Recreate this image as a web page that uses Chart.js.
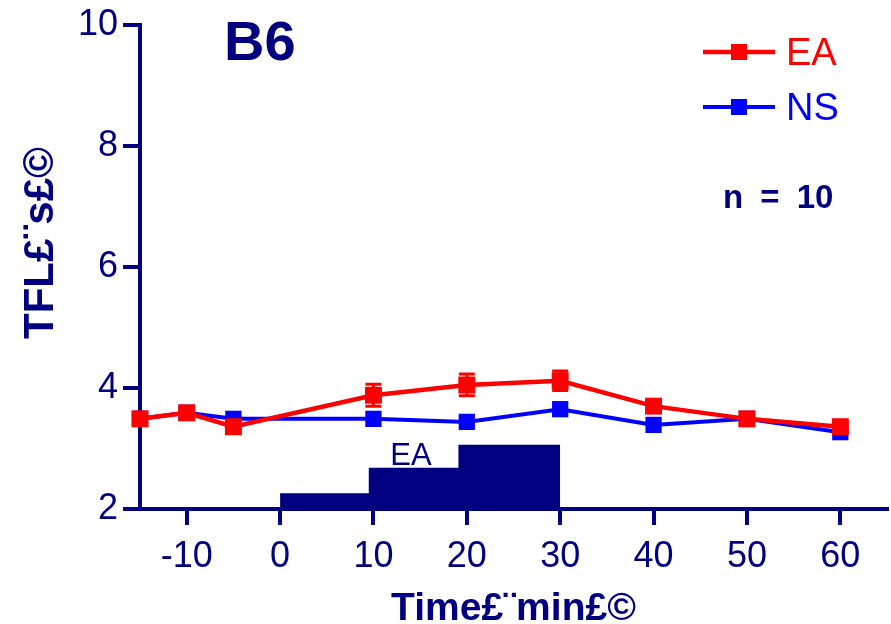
<!DOCTYPE html>
<html>
<head>
<meta charset="utf-8">
<script src="https://cdn.jsdelivr.net/npm/chart.js@4"></script>
<style>
  html, body { margin: 0; padding: 0; background: #ffffff; }
  #wrap { width: 891px; height: 624px; }
</style>
</head>
<body>
<div id="wrap"><canvas id="chart" width="891" height="624"></canvas></div>
<script>
// values
const times = [-15, -10, -5, 10, 20, 30, 40, 50, 60];
const eaValues = [3.49, 3.59, 3.36, 3.88, 4.05, 4.12, 3.70, 3.49, 3.36];
const eaErrors = [0.06, 0.06, 0.06, 0.18, 0.18, 0.16, 0.08, 0.06, 0.06];
const nsValues = [3.49, 3.59, 3.49, 3.49, 3.44, 3.65, 3.39, 3.49, 3.27];
// stimulation block (EA intensity steps)
const stimTimes = [0, 9.5, 19.1, 30];
const stimLevels = [2.26, 2.68, 3.06, 3.06];
const xTicks = [-10, 0, 10, 20, 30, 40, 50, 60];
const yTicks = [2, 4, 6, 8, 10];

const navy = '#000080';
const red = '#ff0000';
const blue = '#0000ff';
const fontFamily = '"Liberation Sans", Arial, sans-serif';

function toPoints(xs, ys) {
  return xs.map((x, i) => ({ x: x, y: ys[i] }));
}

// error bars for datasets that have an "errors" array
const errorBars = {
  id: 'errorBars',
  afterDatasetsDraw(chart) {
    const ctx = chart.ctx;
    const xs = chart.scales.x, ys = chart.scales.y;
    chart.data.datasets.forEach(ds => {
      if (!ds.errors) return;
      ctx.save();
      ctx.strokeStyle = ds.borderColor;
      ctx.lineWidth = 3;
      ds.data.forEach((p, i) => {
        const px = xs.getPixelForValue(p.x);
        const top = ys.getPixelForValue(p.y + ds.errors[i]);
        const bot = ys.getPixelForValue(p.y - ds.errors[i]);
        ctx.beginPath();
        ctx.moveTo(px, top); ctx.lineTo(px, bot);
        ctx.moveTo(px - 8, top); ctx.lineTo(px + 8, top);
        ctx.moveTo(px - 8, bot); ctx.lineTo(px + 8, bot);
        ctx.stroke();
      });
      ctx.restore();
    });
  }
};

// panel label, legend, n, axis titles, EA block label
const labels = {
  id: 'labels',
  afterDraw(chart) {
    const ctx = chart.ctx;
    const area = chart.chartArea;
    ctx.save();
    ctx.textBaseline = 'alphabetic';

    ctx.fillStyle = navy;
    ctx.textAlign = 'left';
    ctx.font = 'bold 56px ' + fontFamily;
    ctx.fillText('B6', 224, 60);

    // legend
    const items = [
      { text: 'EA', color: red, y: 52, width: 4.5 },
      { text: 'NS', color: blue, y: 107, width: 4 }
    ];
    items.forEach(it => {
      ctx.strokeStyle = it.color;
      ctx.lineWidth = it.width;
      ctx.beginPath();
      ctx.moveTo(703, it.y); ctx.lineTo(775, it.y);
      ctx.stroke();
      ctx.fillStyle = it.color;
      ctx.fillRect(731, it.y - 8, 16, 16);
      ctx.font = '38px ' + fontFamily;
      ctx.fillText(it.text, 786, it.y + 13);
    });

    ctx.fillStyle = navy;
    ctx.font = 'bold 33px ' + fontFamily;
    if ('wordSpacing' in ctx) ctx.wordSpacing = '8px';
    ctx.fillText('n = 10', 723, 208);
    if ('wordSpacing' in ctx) ctx.wordSpacing = '0px';

    // EA label above the block
    ctx.font = '31px ' + fontFamily;
    ctx.textAlign = 'center';
    ctx.fillText('EA', 411, 465);

    // x title
    ctx.font = 'bold 39px ' + fontFamily;
    ctx.fillText('Time£¨min£©', (area.left + area.right) / 2, 620);

    // y title
    ctx.translate(53, 243);
    ctx.rotate(-Math.PI / 2);
    ctx.font = 'bold 42px ' + fontFamily;
    ctx.fillText('TFL£¨s£©', 0, 0);
    ctx.restore();
  }
};

new Chart(document.getElementById('chart').getContext('2d'), {
  type: 'line',
  data: {
    datasets: [
      {
        label: 'EA',
        data: toPoints(times, eaValues),
        errors: eaErrors,
        borderColor: red,
        backgroundColor: red,
        borderWidth: 4.5,
        pointStyle: 'rect',
        pointRadius: 12,
        pointBorderWidth: 0,
        clip: false,
        order: 0
      },
      {
        label: 'NS',
        data: toPoints(times, nsValues),
        borderColor: blue,
        backgroundColor: blue,
        borderWidth: 4,
        pointStyle: 'rect',
        pointRadius: 11.5,
        pointBorderWidth: 0,
        clip: false,
        order: 1
      },
      {
        label: 'stim',
        data: toPoints(stimTimes, stimLevels),
        stepped: 'before',
        fill: 'start',
        borderWidth: 0,
        borderColor: navy,
        backgroundColor: navy,
        pointRadius: 0,
        order: 2
      }
    ]
  },
  options: {
    responsive: false,
    animation: false,
    layout: { autoPadding: false, padding: { top: 25, right: 4, left: 0, bottom: 0 } },
    scales: {
      x: {
        type: 'linear',
        min: -15,
        max: 65,
        afterBuildTicks: s => { s.ticks = xTicks.map(v => ({ value: v })); },
        afterFit: s => { s.height = 115; s.paddingLeft = 0; s.paddingRight = 0; },
        ticks: { font: { family: fontFamily, size: 36 }, color: navy, padding: 10, maxRotation: 0, autoSkip: false },
        grid: { drawOnChartArea: false, tickLength: 16, tickWidth: 4, color: navy, lineWidth: 4 },
        border: { color: navy, width: 4 }
      },
      y: {
        min: 2,
        max: 10,
        afterBuildTicks: s => { s.ticks = yTicks.map(v => ({ value: v })); },
        afterFit: s => { s.width = 140; s.paddingTop = 0; s.paddingBottom = 0; },
        ticks: { font: { family: fontFamily, size: 36 }, color: navy, padding: 5 },
        grid: { drawOnChartArea: false, tickLength: 17, tickWidth: 4, color: navy, lineWidth: 4 },
        border: { color: navy, width: 4 }
      }
    },
    plugins: {
      legend: { display: false },
      tooltip: { enabled: false }
    }
  },
  plugins: [errorBars, labels]
});
</script>
</body>
</html>
